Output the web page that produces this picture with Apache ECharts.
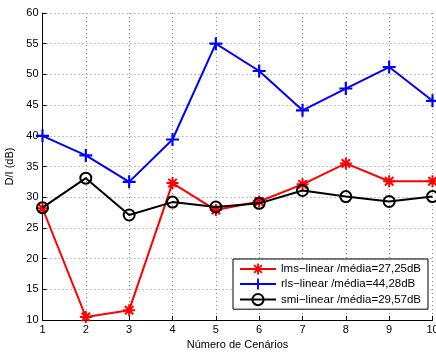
<!DOCTYPE html>
<html><head><meta charset="utf-8">
<script src="https://cdn.jsdelivr.net/npm/echarts@6/dist/echarts.min.js"></script>
<style>html,body{margin:0;padding:0;background:#fff}#c{width:436px;height:352px}</style>
</head><body><div id="c"></div>
<script>
var scenarios = [1,2,3,4,5,6,7,8,9,10];
var lmsValues = [28.2,10.5,11.6,32.3,27.9,29.3,32.1,35.5,32.6,32.6];
var rlsValues = [40.0,36.8,32.5,39.4,55.0,50.55,44.15,47.7,51.2,45.7];
var smiValues = [28.3,33.1,27.1,29.2,28.4,29.0,31.1,30.1,29.3,30.1];
var seriesNames = ['lms\u2212linear /média=27,25dB','rls\u2212linear /média=44,28dB','smi\u2212linear /média=29,57dB'];

function pairs(v){ return scenarios.map(function(x,i){ return [x, v[i]]; }); }

var plusPath = 'path://M-1,-6H1V-1H6V1H1V6H-1V1H-6V-1H-1Z';
var starPath = 'path://M-1,-6H1V-1H6V1H1V6H-1V1H-6V-1H-1Z' +
  'M-3.5,-4.9L4.9,3.5L3.5,4.9L-4.9,-3.5Z' +
  'M3.5,-4.9L4.9,-3.5L-3.5,4.9L-4.9,3.5Z';

var font = 'Liberation Sans, Arial, Helvetica, sans-serif';
var chart = echarts.init(document.getElementById('c'), null, {renderer:'canvas'});
chart.setOption({
  animation:false,
  backgroundColor:'#fff',
  grid:{left:42.5, right:3.5, top:13, bottom:32, containLabel:false, outerBoundsMode:'none'},
  xAxis:{
    type:'value', min:1, max:10, interval:1,
    name:'Número de Cenários', nameLocation:'middle', nameGap:17,
    nameTextStyle:{fontFamily:font, fontSize:11, color:'#000'},
    axisLine:{show:true, onZero:false, lineStyle:{color:'#000', width:1}},
    axisTick:{show:true, inside:true, length:4, lineStyle:{color:'#000'}},
    axisLabel:{fontFamily:font, fontSize:11, color:'#000', margin:4},
    splitLine:{show:true, lineStyle:{color:'#888', type:[1,3], width:1}}
  },
  yAxis:{
    type:'value', min:10, max:60, interval:5,
    name:'D/I (dB)', nameLocation:'middle', nameGap:22,
    nameTextStyle:{fontFamily:font, fontSize:11, color:'#000'},
    axisLine:{show:true, onZero:false, lineStyle:{color:'#000', width:1}},
    axisTick:{show:true, inside:true, length:4, lineStyle:{color:'#000'}},
    axisLabel:{fontFamily:font, fontSize:11, color:'#000', margin:4},
    splitLine:{show:true, lineStyle:{color:'#888', type:[1,3], width:1}}
  },
  legend:{
    orient:'vertical', left:233, top:259,
    backgroundColor:'#fff', borderColor:'#000', borderWidth:1,
    padding:[4,7,3,6], itemGap:3, itemWidth:36, itemHeight:14,
    textStyle:{fontFamily:font, fontSize:11.5, color:'#000'},
    data:seriesNames
  },
  series:[
    {name:seriesNames[0], type:'line', data:pairs(lmsValues), symbol:starPath, symbolSize:12,
     lineStyle:{color:'#ff0000', width:2}, itemStyle:{color:'#ff0000', borderWidth:0}, z:3},
    {name:seriesNames[1], type:'line', data:pairs(rlsValues), symbol:plusPath, symbolSize:13,
     lineStyle:{color:'#0000ff', width:2}, itemStyle:{color:'#0000ff', borderWidth:0}, z:2},
    {name:seriesNames[2], type:'line', data:pairs(smiValues), symbol:'circle', symbolSize:11,
     lineStyle:{color:'#000', width:2}, itemStyle:{color:'rgba(0,0,0,0)', borderColor:'#000', borderWidth:2}, z:4}
  ]
});
</script></body></html>
